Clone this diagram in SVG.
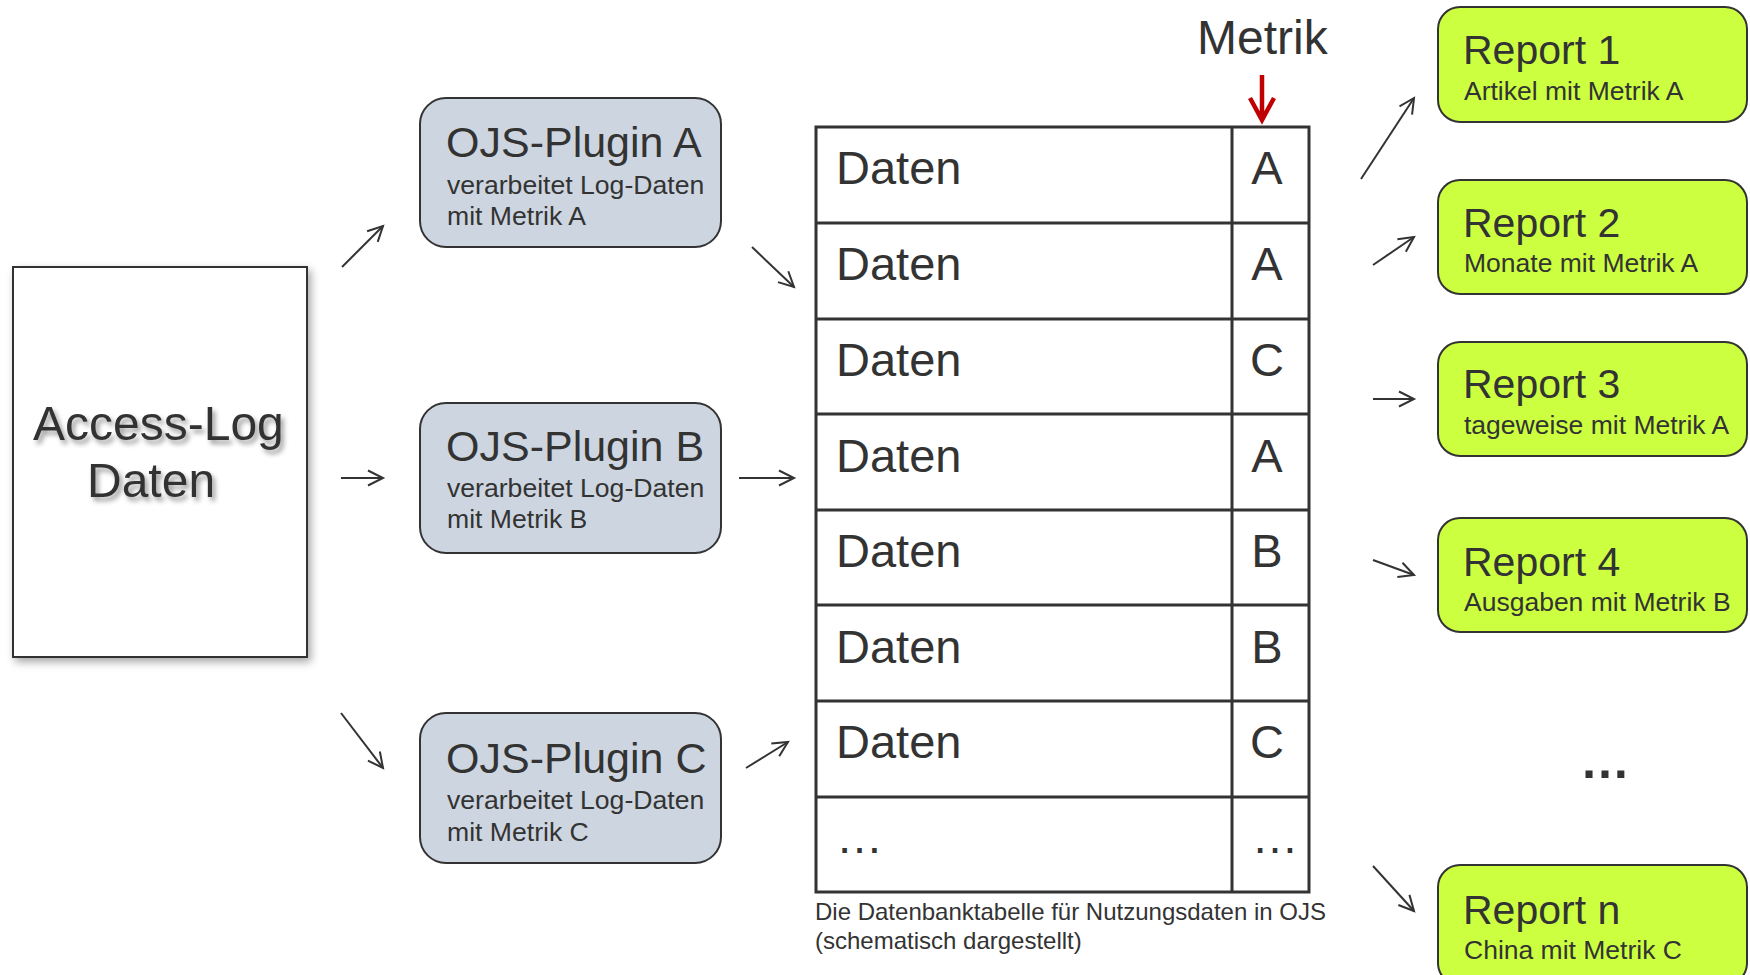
<svg xmlns="http://www.w3.org/2000/svg" width="1750" height="975" viewBox="0 0 1750 975">
<defs>
<filter id="boxShadow" x="-10%" y="-10%" width="125%" height="125%">
<feDropShadow dx="3" dy="4" stdDeviation="4" flood-color="#000" flood-opacity="0.35"/>
</filter>
<filter id="textShadow" x="-10%" y="-20%" width="125%" height="150%">
<feDropShadow dx="3" dy="4" stdDeviation="2.5" flood-color="#000" flood-opacity="0.4"/>
</filter>
<marker id="arr" markerUnits="userSpaceOnUse" markerWidth="24" markerHeight="24" viewBox="-20 -12 24 24" refX="0" refY="0" orient="auto">
<path d="M-15,-7.5 L0,0 L-15,7.5" fill="none" stroke="#333" stroke-width="2"/>
</marker>
</defs>
<style>
text{font-family:"Liberation Sans",Arial,sans-serif;fill:#333}
.plug{fill:#CDD6E0;stroke:#333;stroke-width:2}
.rep{fill:#CCFF40;stroke:#333;stroke-width:2}
.ptitle{font-size:43px}
.psub{font-size:26.6px}
.rtitle{font-size:41px}
.rsub{font-size:26.5px}
.cell{font-size:47px}
.grid{stroke:#333;stroke-width:3;fill:none}
.conn{stroke:#333;stroke-width:2;fill:none;marker-end:url(#arr)}
</style>
<rect width="1750" height="975" fill="#fff"/>

<g id="access-log">
<rect x="13" y="267" width="294" height="390" fill="#fff" stroke="#333" stroke-width="2" filter="url(#boxShadow)"/>
<g filter="url(#textShadow)">
<text x="33" y="440" font-size="48">Access-Log</text>
<text x="87" y="497" font-size="48">Daten</text>
</g>
</g>

<g id="plugin-a">
<rect class="plug" x="420" y="98" width="301" height="149" rx="26"/>
<text class="ptitle" x="446" y="157">OJS-Plugin A</text>
<text class="psub" x="447" y="194">verarbeitet Log-Daten</text>
<text class="psub" x="447" y="225">mit Metrik A</text>
</g>
<g id="plugin-b">
<rect class="plug" x="420" y="403" width="301" height="150" rx="26"/>
<text class="ptitle" x="446" y="461">OJS-Plugin B</text>
<text class="psub" x="447" y="497">verarbeitet Log-Daten</text>
<text class="psub" x="447" y="528">mit Metrik B</text>
</g>
<g id="plugin-c">
<rect class="plug" x="420" y="713" width="301" height="150" rx="26"/>
<text class="ptitle" x="446" y="773">OJS-Plugin C</text>
<text class="psub" x="447" y="809">verarbeitet Log-Daten</text>
<text class="psub" x="447" y="841">mit Metrik C</text>
</g>

<g id="table">
<rect class="grid" x="816" y="127" width="493" height="765"/>
<line class="grid" x1="1232" y1="127" x2="1232" y2="892"/>
<path class="grid" d="M816,223H1309M816,319H1309M816,414H1309M816,510H1309M816,605H1309M816,701H1309M816,797H1309"/>
<g class="cell">
<text x="836" y="184">Daten</text>
<text x="836" y="280">Daten</text>
<text x="836" y="376">Daten</text>
<text x="836" y="472">Daten</text>
<text x="836" y="567">Daten</text>
<text x="836" y="663">Daten</text>
<text x="836" y="758">Daten</text>
<text x="836" y="853">…</text>
</g>
<g class="cell" text-anchor="middle">
<text x="1267" y="184">A</text>
<text x="1267" y="280">A</text>
<text x="1267" y="376">C</text>
<text x="1267" y="472">A</text>
<text x="1267" y="567">B</text>
<text x="1267" y="663">B</text>
<text x="1267" y="758">C</text>
<text x="1275" y="853">…</text>
</g>
<text x="815" y="920" font-size="24">Die Datenbanktabelle für Nutzungsdaten in OJS</text>
<text x="815" y="949" font-size="24">(schematisch dargestellt)</text>
</g>

<g id="metrik">
<text x="1197" y="54" font-size="48">Metrik</text>
<path d="M1262,75V119M1250,98L1262,120L1274,98" fill="none" stroke="#C00000" stroke-width="4.5"/>
</g>

<g id="report-1">
<rect class="rep" x="1438" y="7" width="309" height="115" rx="22"/>
<text class="rtitle" x="1463" y="64">Report 1</text>
<text class="rsub" x="1464" y="100">Artikel mit Metrik A</text>
</g>
<g id="report-2">
<rect class="rep" x="1438" y="180" width="309" height="114" rx="22"/>
<text class="rtitle" x="1463" y="237">Report 2</text>
<text class="rsub" x="1464" y="272">Monate mit Metrik A</text>
</g>
<g id="report-3">
<rect class="rep" x="1438" y="342" width="309" height="114" rx="22"/>
<text class="rtitle" x="1463" y="398">Report 3</text>
<text class="rsub" x="1464" y="434">tageweise mit Metrik A</text>
</g>
<g id="report-4">
<rect class="rep" x="1438" y="518" width="309" height="114" rx="22"/>
<text class="rtitle" x="1463" y="576">Report 4</text>
<text class="rsub" x="1464" y="611">Ausgaben mit Metrik B</text>
</g>
<text x="1580" y="778" font-size="50" font-weight="bold">…</text>
<g id="report-n">
<rect class="rep" x="1438" y="865" width="309" height="120" rx="22"/>
<text class="rtitle" x="1463" y="924">Report n</text>
<text class="rsub" x="1464" y="959">China mit Metrik C</text>
</g>

<g id="connectors">
<line class="conn" x1="342" y1="267" x2="383" y2="226"/>
<line class="conn" x1="341" y1="478" x2="383" y2="478"/>
<line class="conn" x1="341" y1="713" x2="383" y2="768"/>
<line class="conn" x1="752" y1="247" x2="794" y2="287"/>
<line class="conn" x1="739" y1="478" x2="794" y2="478"/>
<line class="conn" x1="746" y1="768" x2="788" y2="742"/>
<line class="conn" x1="1361" y1="179" x2="1414" y2="98"/>
<line class="conn" x1="1373" y1="265" x2="1414" y2="237"/>
<line class="conn" x1="1373" y1="399" x2="1414" y2="399"/>
<line class="conn" x1="1373" y1="560" x2="1414" y2="575"/>
<line class="conn" x1="1373" y1="866" x2="1414" y2="911"/>
</g>
</svg>
